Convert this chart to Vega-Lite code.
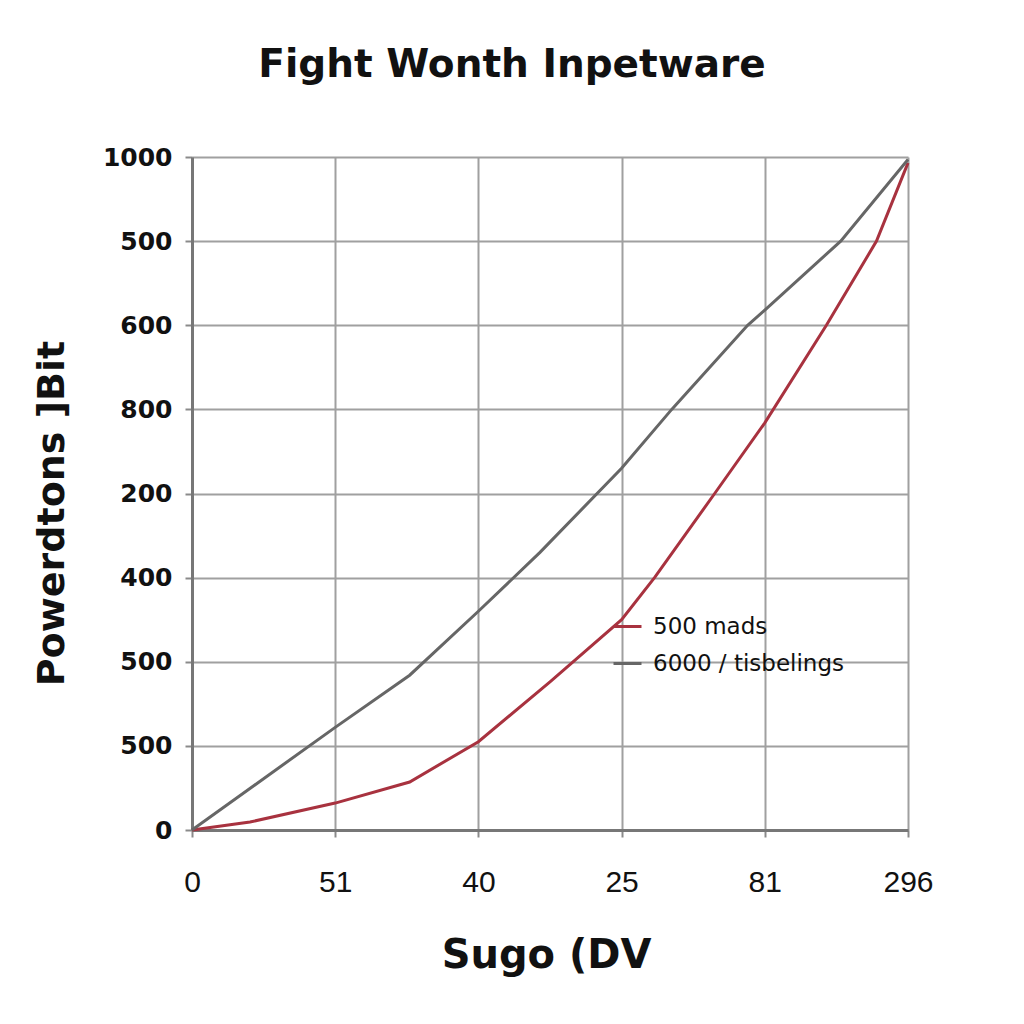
{
  "$schema": "https://vega.github.io/schema/vega-lite/v6.json",
  "width": 716,
  "height": 673,
  "autosize": {"type": "none"},
  "padding": {"left": 192, "top": 157, "right": 116, "bottom": 194},
  "background": "#ffffff",
  "title": {
    "text": "Fight Wonth Inpetware",
    "font": "DejaVu Sans",
    "fontSize": 39,
    "fontWeight": "bold",
    "color": "#111111",
    "anchor": "middle",
    "dx": -38,
    "offset": 60
  },
  "config": {
    "view": {"stroke": null},
    "axis": {
      "gridColor": "#a0a0a0",
      "gridWidth": 2,
      "gridOpacity": 1,
      "domainColor": "#777777",
      "domainWidth": 3,
      "tickColor": "#8a8a8a",
      "tickWidth": 2,
      "tickSize": 7,
      "labelColor": "#111111",
      "titleColor": "#111111"
    }
  },
  "data": {
    "values": [
      {"series": "500 mads", "x": 0, "y": 0},
      {"series": "500 mads", "x": 0.405, "y": 0.095},
      {"series": "500 mads", "x": 1.0, "y": 0.32},
      {"series": "500 mads", "x": 1.52, "y": 0.57},
      {"series": "500 mads", "x": 2.0, "y": 1.05},
      {"series": "500 mads", "x": 2.5, "y": 1.76},
      {"series": "500 mads", "x": 3.0, "y": 2.5},
      {"series": "500 mads", "x": 3.23, "y": 3.0},
      {"series": "500 mads", "x": 3.65, "y": 4.0},
      {"series": "500 mads", "x": 4.0, "y": 4.84},
      {"series": "500 mads", "x": 4.43, "y": 6.0},
      {"series": "500 mads", "x": 4.78, "y": 7.0},
      {"series": "500 mads", "x": 5.0, "y": 7.93},
      {"series": "6000 / tisbelings", "x": 0, "y": 0},
      {"series": "6000 / tisbelings", "x": 1.0, "y": 1.22},
      {"series": "6000 / tisbelings", "x": 1.52, "y": 1.84},
      {"series": "6000 / tisbelings", "x": 2.0, "y": 2.6},
      {"series": "6000 / tisbelings", "x": 2.43, "y": 3.3},
      {"series": "6000 / tisbelings", "x": 3.0, "y": 4.3},
      {"series": "6000 / tisbelings", "x": 3.35, "y": 5.0},
      {"series": "6000 / tisbelings", "x": 3.88, "y": 6.0},
      {"series": "6000 / tisbelings", "x": 4.0, "y": 6.18},
      {"series": "6000 / tisbelings", "x": 4.53, "y": 7.0},
      {"series": "6000 / tisbelings", "x": 5.0, "y": 7.97}
    ]
  },
  "mark": {"type": "line", "strokeWidth": 3},
  "encoding": {
    "x": {
      "field": "x",
      "type": "quantitative",
      "scale": {"domain": [0, 5], "nice": false, "zero": false},
      "axis": {
        "values": [0, 1, 2, 3, 4, 5],
        "labelExpr": "['0','51','40','25','81','296'][datum.value]",
        "labelFont": "Liberation Sans",
        "labelFontSize": 30,
        "labelPadding": 30,
        "labelBaseline": "top",
        "labelFlush": false,
        "title": "Sugo (DV",
        "titleFont": "DejaVu Sans",
        "titleFontSize": 40,
        "titleFontWeight": "bold",
        "titleX": 354,
        "titleY": 125,
        "titleBaseline": "middle",
        "titleAlign": "center"
      }
    },
    "y": {
      "field": "y",
      "type": "quantitative",
      "scale": {"domain": [0, 8], "nice": false, "zero": false},
      "axis": {
        "values": [0, 1, 2, 3, 4, 5, 6, 7, 8],
        "labelExpr": "['0','500','500','400','200','800','600','500','1000'][datum.value]",
        "labelFont": "DejaVu Sans",
        "labelFontSize": 25,
        "labelFontWeight": "bold",
        "labelPadding": 13,
        "labelFlush": false,
        "title": "Powerdtons ]Bit",
        "titleFont": "DejaVu Sans",
        "titleFontSize": 38,
        "titleFontWeight": "bold",
        "titleAngle": -90,
        "titleX": -140,
        "titleY": 356,
        "titleBaseline": "middle",
        "titleAlign": "center"
      }
    },
    "color": {
      "field": "series",
      "type": "nominal",
      "scale": {"domain": ["500 mads", "6000 / tisbelings"], "range": ["#a8323f", "#666666"]},
      "legend": {
        "title": null,
        "orient": "none",
        "legendX": 420,
        "legendY": 454,
        "padding": 0,
        "symbolType": "stroke",
        "symbolSize": 784,
        "symbolStrokeWidth": 3,
        "labelFont": "DejaVu Sans",
        "labelFontSize": 23,
        "labelColor": "#111111",
        "labelOffset": 10,
        "labelLimit": 0,
        "rowPadding": 9
      }
    }
  }
}
